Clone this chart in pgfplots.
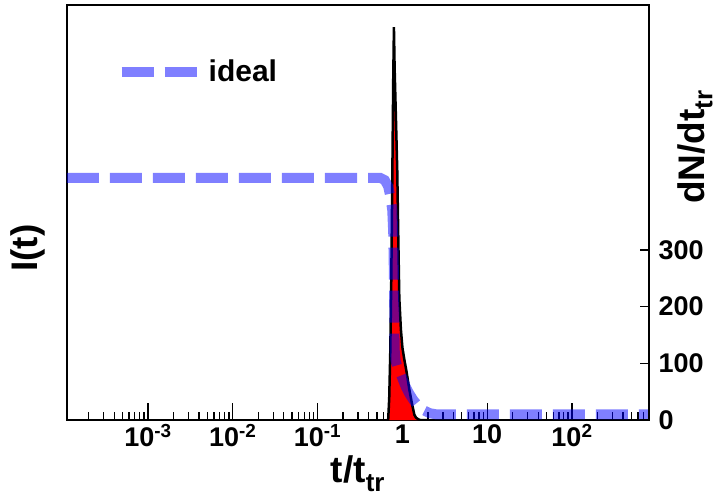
\documentclass[border=0pt]{standalone}
\usepackage{pgfplots}
\pgfplotsset{compat=1.18}
\usepackage{fontspec}
\setmainfont{Liberation Sans}
\definecolor{idealblue}{RGB}{0,0,255}
\begin{document}
\begin{tikzpicture}
\begin{axis}[
  name=ax,
  scale only axis,
  width=582pt, height=415pt,
  xmode=log,
  xmin=1.11e-4, xmax=809,
  ymin=0, ymax=732,
  axis line style={line width=2pt},
  ytick=\empty,
  xtick={1e-3,1e-2,1e-1,1,10,100},
  xticklabels={10\textsuperscript{-3},10\textsuperscript{-2},10\textsuperscript{-1},1,10,10\textsuperscript{2}},
  minor xtick={2e-4,3e-4,4e-4,5e-4,6e-4,7e-4,8e-4,9e-4,
    2e-3,3e-3,4e-3,5e-3,6e-3,7e-3,8e-3,9e-3,
    2e-2,3e-2,4e-2,5e-2,6e-2,7e-2,8e-2,9e-2,
    0.2,0.3,0.4,0.5,0.6,0.7,0.8,0.9,
    2,3,4,5,6,7,8,9,
    20,30,40,50,60,70,80,90,
    200,300,400,500,600,700,800},
  xtick pos=bottom,
  tick align=inside,
  major tick length=17pt,
  minor tick length=8.5pt,
  every tick/.style={line width=1.3pt, black},
  tick label style={font=\fontsize{27}{29}\selectfont\bfseries},
  xticklabel style={yshift=-1pt},
  xlabel={t/t\textsubscript{tr}},
  xlabel style={font=\fontsize{37}{39}\selectfont\bfseries, at={(axis description cs:0.5,-0.078)}, anchor=north},
  ylabel={I(t)},
  ylabel style={font=\fontsize{37}{39}\selectfont\bfseries, at={(axis description cs:-0.067,0.414)}, anchor=center, rotate=0},
  legend style={at={(axis description cs:0.085,0.839)}, anchor=west, draw=none, fill=none, inner sep=0pt, font=\fontsize{30}{32}\selectfont\bfseries},
  legend image code/.code={\draw[#1] (0pt,0pt) -- (75pt,0pt); \path (80pt,0pt);},
]
% histogram (red fill)
\addplot[fill=red, draw=none, forget plot] coordinates {
(0.68,0) (0.70,40) (0.72,120) (0.74,250) (0.76,420) (0.78,600) (0.795,693)
(0.81,620) (0.83,560) (0.85,500) (0.87,440) (0.895,320) (0.92,215) (0.96,160)
(1.0,128) (1.056,106) (1.12,85) (1.21,53) (1.30,28) (1.386,9) (1.45,4) (1.55,1) (1.62,0)
} \closedcycle;
% histogram outline
\addplot[black, line width=2.5pt, forget plot] coordinates {
(0.66,0) (0.68,0) (0.70,40) (0.72,120) (0.74,250) (0.76,420) (0.78,600) (0.795,693)
(0.81,620) (0.83,560) (0.85,500) (0.87,440) (0.895,320) (0.92,215) (0.96,160)
(1.0,128) (1.056,106) (1.12,85) (1.21,53) (1.30,28) (1.386,9) (1.45,4) (1.55,1) (1.62,0) (2.05,0)
};
% ideal
\addplot[idealblue, opacity=0.5, line width=10pt, dash pattern=on 32pt off 11pt] coordinates {
(1.11e-4,427) (0.55,427) (0.62,423) (0.68,412) (0.72,395) (0.76,370) (0.78,330)
(0.79,280) (0.80,220) (0.805,160) (0.81,125) (0.83,105) (0.88,92) (0.95,82)
(1.02,70) (1.1,58) (1.2,47) (1.35,35) (1.55,24) (1.8,17) (2.1,12) (2.5,10) (809,10)
};
\addlegendentry{ideal}
\end{axis}
\begin{axis}[
  scale only axis,
  width=582pt, height=415pt,
  xmode=log,
  xmin=1.11e-4, xmax=809,
  ymin=0, ymax=732,
  hide x axis,
  axis y line*=right,
  axis line style={line width=2pt, -},
  ytick={0,100,200,300},
  yticklabels={0,100,200,300},
  tick align=inside,
  major tick length=9pt,
  every tick/.style={line width=1.3pt, black},
  tick label style={font=\fontsize{27}{29}\selectfont\bfseries},
  yticklabel style={xshift=6pt},
  ylabel={dN/dt\textsubscript{tr}},
  ylabel style={font=\fontsize{37}{39}\selectfont\bfseries, at={(axis description cs:1.079,0.658)}, anchor=center, rotate=0},
]
\end{axis}
\pgfresetboundingbox
\path[use as bounding box] ([shift={(-67pt,-83pt)}]ax.south west) rectangle ([shift={(68pt,5pt)}]ax.north east);
\end{tikzpicture}
\end{document}
